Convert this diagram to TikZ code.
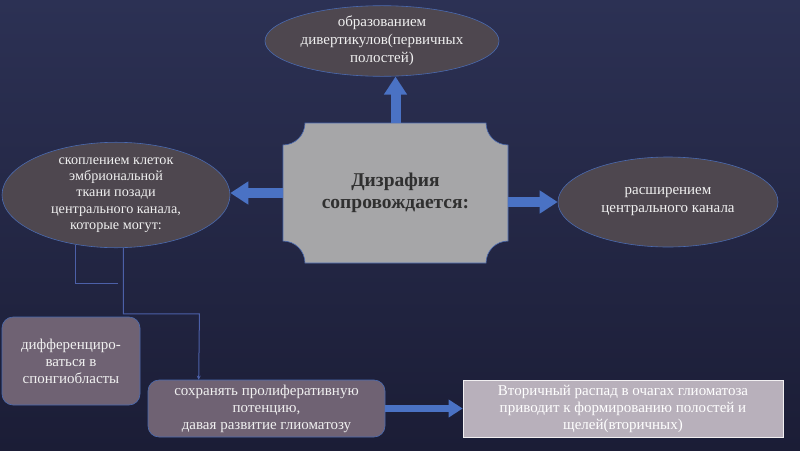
\documentclass[tikz,border=0pt]{standalone}
\usepackage{fontspec}
\setmainfont{Liberation Serif}
\usetikzlibrary{shapes.geometric,arrows.meta,calc}
\definecolor{bgtop}{HTML}{2C3154}
\definecolor{bgbot}{HTML}{1B1D36}
\definecolor{ellfill}{HTML}{4E474F}
\definecolor{boxfill}{HTML}{6F6273}
\definecolor{lightbox}{HTML}{B8B0BB}
\definecolor{centerfill}{HTML}{A6A6A8}
\definecolor{edge}{HTML}{4A6AB0}
\definecolor{arrowblue}{HTML}{4A72C4}
\definecolor{linecol}{HTML}{4C60A8}
\definecolor{txt}{HTML}{F0F0F0}
\definecolor{ctxt}{HTML}{303030}
\tikzset{
  ell/.style={ellipse, fill=ellfill, draw=edge, line width=0.6pt, text=txt, align=center, inner sep=0pt, font=\fontsize{15}{18}\selectfont},
  rbox/.style={rectangle, rounded corners=11pt, fill=boxfill, draw=edge, line width=0.6pt, text=txt, align=center, inner sep=0pt, font=\fontsize{15}{17}\selectfont},
  lbox/.style={rectangle, fill=lightbox, draw=white!80!lightbox, line width=0.6pt, text=white, align=center, inner sep=0pt, font=\fontsize{15}{17}\selectfont},
  bigarrow/.style={draw=arrowblue, line width=10pt, -{Triangle[width=22pt,length=18pt]}},
  midarrow/.style={draw=arrowblue, line width=7pt, -{Triangle[width=17pt,length=14pt]}},
  thinline/.style={draw=linecol, line width=1pt},
}
\begin{document}
\begin{tikzpicture}[x=1pt,y=-1pt]
\shade[top color=bgtop, bottom color=bgbot] (0,0) rectangle (800,450);
\useasboundingbox (0,0) rectangle (800,450);

% center plaque
\fill[centerfill, draw=edge, line width=0.6pt]
  (305,123) -- (486,123) arc[start angle=180,end angle=270,radius=22pt]
  -- (508,241) arc[start angle=90,end angle=180,radius=22pt]
  -- (305,263) arc[start angle=0,end angle=90,radius=22pt]
  -- (283,145) arc[start angle=270,end angle=360,radius=22pt] -- cycle;
\node[minimum width=225pt, minimum height=140pt, inner sep=0pt, align=center, text=ctxt,
  font=\fontsize{19.5}{22}\selectfont\bfseries] (center) at (395.5,193) {Дизрафия\\сопровождается:};

\node[ell, minimum width=234pt, minimum height=66pt] (top) at (382,41)
  {образованием\\дивертикулов(первичных\\полостей)};
\node[ell, minimum width=228pt, minimum height=104pt, font=\fontsize{14.2}{16.2}\selectfont] (left) at (116,195)
  {скоплением клеток\\эмбриональной\\ткани позади\\центрального канала,\\которые могут:};
\node[ell, minimum width=220pt, minimum height=90pt] (right) at (668,202)
  {расширением\\центрального канала};

\node[rbox, minimum width=138pt, minimum height=88pt] (diff) at (71,361)
  {дифференциро-\\ваться в\\спонгиобласты};
\node[rbox, minimum width=237pt, minimum height=57pt] (sohr) at (266.5,408.5)
  {сохранять пролиферативную\\потенцию,\\давая развитие глиоматозу};
\node[lbox, minimum width=320pt, minimum height=57pt] (second) at (623,408.5)
  {Вторичный распад в очагах глиоматоза\\приводит к формированию полостей и\\щелей(вторичных)};

% big arrows
\draw[bigarrow] (center.north) -- (center.north |- top.south);
\draw[bigarrow] (center.west) -- (center.west -| left.east);
\draw[bigarrow] (center.east |- right.west) -- (right.west);
\draw[midarrow] (sohr.east) -- (second.west);

% thin connectors
\coordinate (elbow) at (118,283);
\draw[thinline] (left.231) |- (elbow);
\draw[thinline, -{Stealth[length=4pt,width=4pt]}] (left.278) |- ++(76,66) -- ($(sohr.north west)+(51,0)$);
\end{tikzpicture}
\end{document}
